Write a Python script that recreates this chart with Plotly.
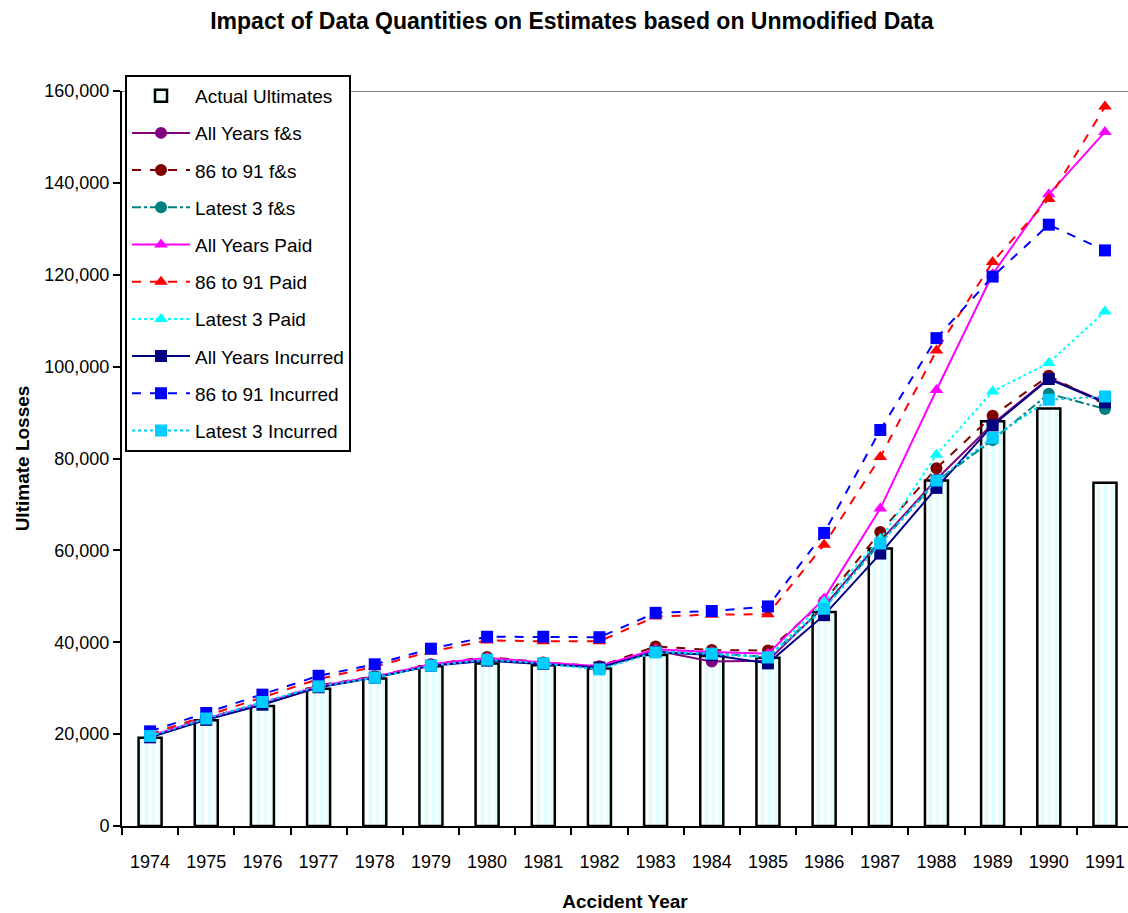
import plotly.graph_objects as go

years = [str(y) for y in range(1974, 1992)]

actual_ultimates = [19200, 23000, 26100, 29900, 32100, 34800, 35400, 35000, 34300, 37200, 37000, 36600, 46600, 60400, 75200, 88100, 90900, 74700]

all_years_fs = [19500, 23300, 26500, 30300, 32400, 35000, 36200, 35500, 34600, 38200, 35800, 36000, 47800, 62000, 75500, 87500, 97500, 92300]
y86_91_fs = [19600, 23500, 26800, 30600, 32600, 35200, 36800, 35600, 34800, 39100, 38300, 38200, 48900, 64000, 77900, 89300, 98000, 91800]
latest3_fs = [19400, 23300, 26600, 30300, 32300, 35000, 36300, 35400, 34400, 38000, 37600, 36800, 47500, 61600, 75000, 84000, 94100, 90800]

all_years_paid = [19600, 23400, 26700, 30500, 32500, 35200, 36600, 35600, 34800, 38500, 37900, 37500, 49500, 69100, 94900, 120100, 137500, 151100]
y86_91_paid = [20000, 24000, 28000, 32000, 34700, 38000, 40400, 40200, 40200, 45600, 46000, 46100, 61200, 80300, 103500, 122800, 136500, 156600]
latest3_paid = [19300, 23200, 26500, 30200, 32300, 34900, 36000, 35300, 34200, 38000, 37300, 36800, 48800, 62500, 80800, 94600, 100800, 112000]

all_years_inc = [19300, 23100, 26400, 30200, 32300, 34900, 36000, 35300, 34500, 37900, 37200, 35400, 45900, 59300, 73600, 87200, 97300, 92200]
y86_91_inc = [20600, 24600, 28600, 32700, 35200, 38600, 41200, 41200, 41100, 46400, 46800, 47800, 63800, 86200, 106200, 119600, 130900, 125300]
latest3_inc = [19600, 23400, 27000, 30400, 32300, 34900, 36200, 35400, 34100, 37800, 37500, 36700, 47300, 61500, 75200, 84500, 92800, 93500]

y_ticks = [0, 20000, 40000, 60000, 80000, 100000, 120000, 140000, 160000]

FONT = "Liberation Sans, Arial, sans-serif"

fig = go.Figure()

fig.add_trace(go.Bar(
    x=years, y=actual_ultimates, name="Actual Ultimates", width=0.41,
    marker=dict(color="white", line=dict(color="black", width=2.5),
                pattern=dict(shape="|", fgcolor="#BDFBFB", bgcolor="white", size=7, solidity=0.5)),
    legendgroup="g0",
))

line_specs = [
    ("All Years f&s", all_years_fs, "#800080", "solid", "circle"),
    ("86 to 91 f&s", y86_91_fs, "#800000", "dash", "circle"),
    ("Latest 3 f&s", latest3_fs, "#008080", "dashdot", "circle"),
    ("All Years Paid", all_years_paid, "#FF00FF", "solid", "triangle-up"),
    ("86 to 91 Paid", y86_91_paid, "#FF0000", "dash", "triangle-up"),
    ("Latest 3 Paid", latest3_paid, "#00FFFF", "dot", "triangle-up"),
    ("All Years Incurred", all_years_inc, "#000080", "solid", "square"),
    ("86 to 91 Incurred", y86_91_inc, "#0000FF", "dash", "square"),
    ("Latest 3 Incurred", latest3_inc, "#00CCFF", "dot", "square"),
]

for i, (name, vals, color, dash, sym) in enumerate(line_specs):
    fig.add_trace(go.Scatter(
        x=years, y=vals, name=name, mode="lines+markers",
        line=dict(color=color, width=2, dash=dash),
        marker=dict(symbol=sym, size=12, color=color),
        legendgroup=f"g{i+1}",
    ))

fig.add_shape(type="line", xref="paper", yref="y", x0=0, x1=1, y0=160000, y1=160000,
              line=dict(color="#808080", width=2), layer="below")

fig.update_layout(
    width=1128, height=913,
    margin=dict(l=122, r=0, t=91, b=87),
    paper_bgcolor="white", plot_bgcolor="white",
    font=dict(family=FONT, color="black", size=17),
    title=dict(text="<b>Impact of Data Quantities on Estimates based on Unmodified Data</b>",
               x=0.507, xanchor="center", y=0.986, yanchor="top",
               font=dict(family=FONT, size=23, color="black")),
    showlegend=True,
    legend=dict(x=0.003, xanchor="left", y=1.022, yanchor="top",
                bgcolor="white", bordercolor="black", borderwidth=2,
                font=dict(family=FONT, size=19, color="black"),
                itemwidth=58,
                tracegroupgap=9.5, traceorder="grouped"),
    bargap=0.59,
    xaxis=dict(
        type="category", range=[-0.5, 17.41],
        showline=True, linecolor="black", linewidth=2,
        ticks="outside", tickson="boundaries", ticklen=7, tickwidth=2, tickcolor="black",
        showgrid=False, zeroline=False,
        tickfont=dict(family=FONT, size=18),
        ticklabelstandoff=18,
        title=dict(text="<b>Accident Year</b>", font=dict(family=FONT, size=19), standoff=24),
    ),
    yaxis=dict(
        range=[0, 160000], tickvals=y_ticks,
        ticktext=[f"{v:,}" for v in y_ticks],
        showline=True, linecolor="black", linewidth=2,
        ticks="outside", ticklen=7, tickwidth=2, tickcolor="black",
        showgrid=False, zeroline=False,
        tickfont=dict(family=FONT, size=18),
        title=dict(text="<b>Ultimate Losses</b>", font=dict(family=FONT, size=19), standoff=10),
    ),
)

fig.write_html("out.html")
